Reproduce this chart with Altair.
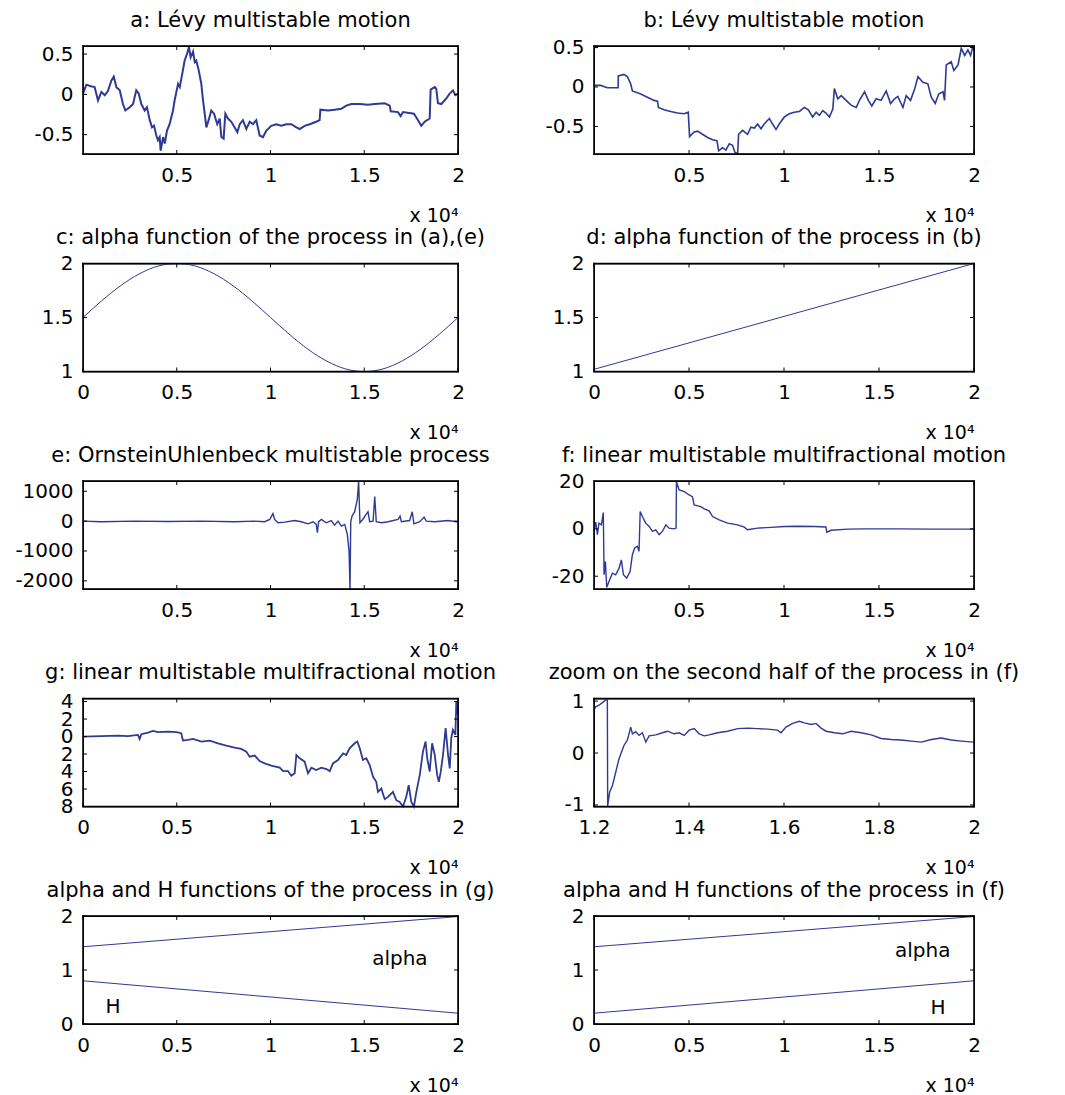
import altair as alt
import pandas as pd

FONT = "DejaVu Sans"
LINE = "#2E3A94"
H = 108
WL, WR = 375, 380

# ---------------- data (x in units of 10^4) ----------------
A_X = [0.000, 0.018, 0.041, 0.062, 0.080, 0.098, 0.116, 0.133, 0.151, 0.164, 0.178, 0.196, 0.213, 0.226,
       0.249, 0.267, 0.284, 0.297, 0.311, 0.329, 0.341, 0.356, 0.368, 0.379, 0.391, 0.400, 0.409, 0.414,
       0.427, 0.436, 0.448, 0.462, 0.480, 0.489, 0.507, 0.516, 0.533, 0.542, 0.556, 0.565, 0.574, 0.587,
       0.596, 0.604, 0.617, 0.631, 0.640, 0.649, 0.658, 0.670, 0.684, 0.699, 0.716, 0.729, 0.738, 0.750,
       0.759, 0.773, 0.791, 0.809, 0.823, 0.836, 0.853, 0.871, 0.889, 0.907, 0.924, 0.942, 0.960, 0.978,
       1.004, 1.031, 1.058, 1.084, 1.111, 1.138, 1.156, 1.182, 1.209, 1.244, 1.262, 1.266, 1.307, 1.342,
       1.378, 1.404, 1.431, 1.476, 1.520, 1.556, 1.609, 1.636, 1.641, 1.680, 1.694, 1.707, 1.765, 1.787,
       1.804, 1.822, 1.849, 1.854, 1.876, 1.884, 1.893, 1.911, 1.938, 1.956, 1.973, 1.986, 2.000]
A_Y = [0.01, 0.12, 0.10, 0.09, -0.075, 0.03, -0.01, 0.04, 0.17, 0.22, 0.09, 0.05, -0.12, -0.20,
       -0.16, -0.12, 0.05, 0.01, -0.12, -0.20, -0.16, -0.32, -0.41, -0.39, -0.51, -0.57, -0.53, -0.70,
       -0.53, -0.61, -0.45, -0.37, -0.20, -0.07, 0.13, 0.09, 0.30, 0.42, 0.51, 0.59, 0.46, 0.53,
       0.40, 0.42, 0.30, 0.13, -0.07, -0.24, -0.41, -0.32, -0.20, -0.24, -0.37, -0.30, -0.53, -0.55,
       -0.24, -0.30, -0.34, -0.41, -0.47, -0.37, -0.32, -0.43, -0.34, -0.37, -0.32, -0.51, -0.53, -0.45,
       -0.39, -0.37, -0.39, -0.37, -0.37, -0.41, -0.43, -0.39, -0.37, -0.34, -0.32, -0.19, -0.20, -0.19,
       -0.18, -0.14, -0.12, -0.12, -0.13, -0.12, -0.11, -0.14, -0.21, -0.22, -0.27, -0.22, -0.24, -0.32,
       -0.39, -0.34, -0.30, 0.06, 0.09, 0.07, -0.11, -0.12, -0.05, 0.01, 0.05, -0.01, 0.01]

B_X = [0.000, 0.035, 0.070, 0.127, 0.128, 0.158, 0.176, 0.193, 0.202, 0.246, 0.281, 0.316, 0.334, 0.339,
       0.369, 0.404, 0.439, 0.475, 0.496, 0.503, 0.527, 0.545, 0.571, 0.598, 0.624, 0.647, 0.656, 0.677,
       0.694, 0.712, 0.729, 0.742, 0.756, 0.761, 0.782, 0.808, 0.826, 0.844, 0.861, 0.879, 0.896, 0.923,
       0.940, 0.958, 0.975, 1.002, 1.028, 1.054, 1.081, 1.107, 1.128, 1.151, 1.169, 1.186, 1.204, 1.221,
       1.239, 1.257, 1.265, 1.283, 1.301, 1.327, 1.353, 1.380, 1.397, 1.424, 1.444, 1.462, 1.485, 1.511,
       1.538, 1.561, 1.582, 1.599, 1.626, 1.643, 1.666, 1.687, 1.705, 1.731, 1.757, 1.775, 1.796, 1.814,
       1.837, 1.845, 1.854, 1.880, 1.894, 1.916, 1.933, 1.951, 1.968, 1.982, 1.995, 2.000]
B_Y = [0.02, 0.02, -0.01, -0.01, 0.14, 0.16, 0.13, 0.04, -0.05, -0.09, -0.13, -0.17, -0.18, -0.26,
       -0.29, -0.31, -0.33, -0.34, -0.32, -0.63, -0.57, -0.56, -0.60, -0.64, -0.67, -0.68, -0.81, -0.77,
       -0.80, -0.72, -0.74, -0.83, -0.84, -0.60, -0.55, -0.60, -0.51, -0.52, -0.47, -0.53, -0.47, -0.40,
       -0.47, -0.54, -0.47, -0.38, -0.34, -0.32, -0.31, -0.26, -0.29, -0.38, -0.32, -0.36, -0.30, -0.33,
       -0.38, -0.28, -0.02, -0.15, -0.11, -0.17, -0.23, -0.26, -0.17, -0.06, -0.17, -0.24, -0.15, -0.17,
       -0.05, -0.21, -0.15, -0.12, -0.26, -0.11, -0.17, -0.03, 0.13, 0.06, 0.04, -0.13, -0.21, -0.09,
       -0.06, -0.17, 0.28, 0.32, 0.21, 0.28, 0.49, 0.40, 0.47, 0.40, 0.52, 0.47]

C_X = [0.0, 0.1, 0.2, 0.3, 0.4, 0.5, 0.6, 0.7, 0.8, 0.9, 1.0, 1.1, 1.2, 1.3, 1.4, 1.5, 1.6, 1.7, 1.8, 1.9, 2.0]
C_Y = [1.50, 1.655, 1.794, 1.904, 1.976, 2.00, 1.976, 1.904, 1.794, 1.655, 1.50, 1.345, 1.206, 1.096,
       1.024, 1.00, 1.024, 1.096, 1.206, 1.345, 1.50]

D_X = [0.0, 2.0]
D_Y = [1.02, 2.00]

E_X = [0.000, 0.098, 0.276, 0.453, 0.631, 0.809, 0.916, 0.969, 0.996, 1.013, 1.022, 1.040, 1.076, 1.129,
       1.164, 1.200, 1.227, 1.244, 1.250, 1.257, 1.271, 1.298, 1.324, 1.342, 1.360, 1.378, 1.396, 1.410,
       1.419, 1.424, 1.428, 1.435, 1.449, 1.463, 1.470, 1.477, 1.492, 1.510, 1.520, 1.529, 1.547, 1.556,
       1.564, 1.591, 1.627, 1.680, 1.691, 1.698, 1.742, 1.756, 1.765, 1.796, 1.819, 1.831, 1.876, 1.947, 2.000]
E_Y = [0, -20, 0, -10, 0, -20, 0, -20, 55, 250, 55, -55, -35, 20,
       -20, -90, -20, -110, -390, -20, 55, -55, 20, -135, 0, -170, -110, -450,
       -1000, -2270, -20, 170, 315, 730, 1340, -55, 55, 225, 315, -20, 0, 820,
       -20, -55, -20, 55, 170, -20, 20, 315, -90, -20, 135, 0, -20, 20, -30]

F_X = [0.000, 0.009, 0.018, 0.026, 0.039, 0.049, 0.053, 0.060, 0.067, 0.079, 0.097, 0.114, 0.132, 0.144,
       0.155, 0.172, 0.190, 0.202, 0.214, 0.228, 0.237, 0.243, 0.255, 0.272, 0.290, 0.308, 0.325, 0.343,
       0.360, 0.378, 0.395, 0.422, 0.432, 0.434, 0.448, 0.475, 0.501, 0.518, 0.527, 0.562, 0.580, 0.606,
       0.624, 0.659, 0.703, 0.756, 0.791, 0.808, 0.861, 0.931, 1.002, 1.072, 1.160, 1.221, 1.225, 1.248,
       1.336, 1.424, 1.599, 1.775, 2.000]
F_Y = [-1.1, 2.8, -2.5, 2.4, 1.7, 6.9, -19.4, -13.8, -24.7, -22.2, -18.7, -19.4, -16.6, -13.1,
       -19.4, -20.8, -18.0, -10.9, -8.1, -7.4, -9.5, 7.3, 5.2, 2.4, 1.0, -1.1, -0.4, -2.5,
       -1.1, 1.7, 0.3, 0.0, 0.3, 19.9, 16.4, 15.7, 14.3, 13.6, 10.1, 9.4, 8.4, 7.6,
       5.2, 3.8, 2.4, 1.7, 0.7, -0.4, 0.3, 0.6, 1.0, 1.1, 1.0, 0.8, -1.4, -0.6,
       -0.1, 0.0, 0.0, -0.1, -0.1]

G_X = [0.000, 0.098, 0.187, 0.240, 0.293, 0.302, 0.311, 0.347, 0.373, 0.400, 0.453, 0.498, 0.524, 0.533,
       0.560, 0.587, 0.631, 0.676, 0.720, 0.764, 0.809, 0.844, 0.871, 0.889, 0.916, 0.942, 0.969, 1.004,
       1.049, 1.067, 1.093, 1.111, 1.129, 1.138, 1.156, 1.182, 1.200, 1.218, 1.244, 1.271, 1.298, 1.316,
       1.333, 1.360, 1.387, 1.404, 1.422, 1.449, 1.463, 1.476, 1.493, 1.511, 1.529, 1.547, 1.564, 1.573,
       1.591, 1.609, 1.627, 1.653, 1.671, 1.689, 1.707, 1.724, 1.737, 1.751, 1.765, 1.778, 1.796, 1.813,
       1.827, 1.836, 1.849, 1.862, 1.876, 1.889, 1.898, 1.908, 1.920, 1.934, 1.947, 1.956, 1.964, 1.973,
       1.986, 1.991, 1.996, 2.000]
G_Y = [0.0, 0.04, 0.11, 0.04, 0.19, -0.27, 0.27, 0.46, 0.65, 0.50, 0.57, 0.50, 0.38, -0.46,
       -0.38, -0.27, -0.57, -0.46, -0.77, -1.03, -1.26, -1.42, -1.72, -2.30, -2.18, -2.80, -3.07, -3.33,
       -3.56, -3.95, -3.95, -4.48, -4.21, -2.11, -2.49, -2.87, -4.21, -3.56, -3.83, -3.56, -3.72, -3.95,
       -3.07, -2.68, -1.92, -2.11, -1.34, -0.77, -0.57, -1.34, -2.68, -2.49, -3.26, -4.60, -5.17, -6.32,
       -5.94, -7.16, -6.90, -6.32, -7.28, -7.47, -8.0, -6.90, -5.56, -7.47, -8.0, -6.32, -4.41, -1.72,
       -0.57, -2.49, -4.02, -0.77, -2.11, -4.41, -5.17, -4.02, -2.11, 0.96, -2.11, -3.64, -0.19, 0.77,
       0.19, 4.0, 2.49, 3.64]

Z_X = [1.2000, 1.2035, 1.2105, 1.2176, 1.2246, 1.2281, 1.2288, 1.2330, 1.2387, 1.2457, 1.2527, 1.2633,
       1.2703, 1.2773, 1.2809, 1.2879, 1.2949, 1.3020, 1.3090, 1.3160, 1.3301, 1.3441, 1.3547, 1.3687,
       1.3793, 1.3898, 1.4004, 1.4109, 1.4214, 1.4320, 1.4425, 1.4601, 1.4812, 1.5023, 1.5234, 1.5445,
       1.5655, 1.5866, 1.5937, 1.6042, 1.6183, 1.6323, 1.6429, 1.6569, 1.6675, 1.6780, 1.6886, 1.7062,
       1.7237, 1.7413, 1.7624, 1.7835, 1.8046, 1.8256, 1.8467, 1.8678, 1.8889, 1.9100, 1.9311, 1.9522,
       1.9733, 2.0000]
Z_Y = [0.83, 0.89, 0.92, 0.97, 1.02, 1.02, -1.02, -0.75, -0.63, -0.37, -0.11, 0.15,
       0.25, 0.50, 0.37, 0.41, 0.34, 0.39, 0.21, 0.33, 0.35, 0.39, 0.42, 0.37,
       0.39, 0.34, 0.44, 0.47, 0.37, 0.33, 0.35, 0.39, 0.42, 0.47, 0.48, 0.47,
       0.46, 0.44, 0.39, 0.50, 0.57, 0.61, 0.58, 0.55, 0.57, 0.48, 0.42, 0.39,
       0.37, 0.42, 0.39, 0.35, 0.28, 0.26, 0.25, 0.23, 0.21, 0.26, 0.29, 0.25,
       0.23, 0.21]

LIN_X = [0.0, 2.0]
I_ALPHA = [1.43, 1.99]
I_H = [0.80, 0.20]
J_ALPHA = [1.43, 1.99]
J_H = [0.20, 0.80]

I_LABELS = pd.DataFrame({"x": [1.69, 0.16], "y": [1.20, 0.31], "t": ["alpha", "H"]})
J_LABELS = pd.DataFrame({"x": [1.73, 1.81], "y": [1.36, 0.29], "t": ["alpha", "H"]})

TICKS_X_NO0 = [0.5, 1, 1.5, 2]
TICKS_X_0 = [0, 0.5, 1, 1.5, 2]

LABEL_SIZE = 20
EDGE = 1.4   # thickness of the box edges (filled ticks)


def panel(title, series, xdom, ydom, xticks, yticks, width, label_expr="'' + datum.value",
          widths=None, interp=None, labels=None):
    sx = alt.Scale(domain=xdom, nice=False, zero=False)
    sy = alt.Scale(domain=ydom, nice=False, zero=False)
    xaxis = alt.Axis(values=xticks, labelExpr="'' + datum.value", tickSize=0, grid=False, domain=False,
                     labelFont=FONT, labelFontSize=LABEL_SIZE, labelColor="black", labelPadding=11,
                     labelFlush=False, labelOverlap=False, labelBound=False,
                     title="x 10\u2074", titleFont=FONT, titleFontSize=19, titleFontWeight="normal",
                     titleColor="black", titleAnchor="end", titleAlign="right", titleBaseline="alphabetic",
                     titleX=width, titleY=67)
    yaxis = alt.Axis(values=yticks, labelExpr=label_expr, tickSize=0, grid=False, domain=False,
                     labelFont=FONT, labelFontSize=LABEL_SIZE, labelColor="black", labelPadding=10,
                     labelFlush=False, labelOverlap=False, labelBound=False, title=None,
                     minExtent=74, maxExtent=74)
    X = lambda: alt.X("x:Q", scale=sx, axis=xaxis)
    Y = lambda: alt.Y("y:Q", scale=sy, axis=yaxis)
    layers = []
    for k, (xs, ys) in enumerate(series):
        df = pd.DataFrame({"x": xs, "y": ys, "i": list(range(len(xs)))})
        sw = widths[k] if widths else 1.0
        mk = dict(color=LINE, strokeWidth=sw)
        if interp:
            mk["interpolate"] = interp
        layers.append(alt.Chart(df).mark_line(**mk).encode(x=X(), y=Y(), order="i:Q"))
    tx = pd.DataFrame({"x": xticks})
    ty = pd.DataFrame({"y": yticks})
    tl = 4
    # inward tick marks on all four sides (filled ticks)
    layers.append(alt.Chart(tx).mark_tick(color="black", orient="vertical", size=tl, thickness=1,
                                          opacity=1).encode(x=X(), y=alt.value(H - tl / 2)))
    layers.append(alt.Chart(tx).mark_tick(color="black", orient="vertical", size=tl, thickness=1,
                                          opacity=1).encode(x=X(), y=alt.value(tl / 2)))
    layers.append(alt.Chart(ty).mark_tick(color="black", orient="horizontal", size=tl, thickness=1,
                                          opacity=1).encode(y=Y(), x=alt.value(tl / 2)))
    layers.append(alt.Chart(ty).mark_tick(color="black", orient="horizontal", size=tl, thickness=1,
                                          opacity=1).encode(y=Y(), x=alt.value(width - tl / 2)))
    # box edges as filled ticks centred on the middle of each side
    midx = pd.DataFrame({"x": [(xdom[0] + xdom[1]) / 2]})
    midy = pd.DataFrame({"y": [(ydom[0] + ydom[1]) / 2]})
    layers.append(alt.Chart(midx).mark_tick(color="black", orient="horizontal", size=width + EDGE,
                                            thickness=EDGE, opacity=1).encode(x=X(), y=alt.value(0)))
    layers.append(alt.Chart(midx).mark_tick(color="black", orient="horizontal", size=width + EDGE,
                                            thickness=EDGE, opacity=1).encode(x=X(), y=alt.value(H)))
    layers.append(alt.Chart(midy).mark_tick(color="black", orient="vertical", size=H + EDGE,
                                            thickness=EDGE, opacity=1).encode(y=Y(), x=alt.value(0)))
    layers.append(alt.Chart(midy).mark_tick(color="black", orient="vertical", size=H + EDGE,
                                            thickness=EDGE, opacity=1).encode(y=Y(), x=alt.value(width)))
    if labels is not None:
        layers.append(alt.Chart(labels).mark_text(font=FONT, fontSize=20, color="black",
                                                  align="center", baseline="middle").encode(
            x=X(), y=Y(), text="t:N"))
    # panel title as text above the box
    layers.append(alt.Chart(pd.DataFrame({"t": [title]})).mark_text(
        font=FONT, fontSize=21, color="black", align="center", baseline="alphabetic").encode(
        text="t:N", x=alt.value(width / 2), y=alt.value(-19.5)))
    return alt.layer(*layers).properties(width=width, height=H)


pa = panel("a: Lévy multistable motion", [(A_X, A_Y)], [0, 2], [-0.74, 0.6], TICKS_X_NO0, [-0.5, 0, 0.5], WL,
           widths=[2.0])
pb = panel("b: Lévy multistable motion", [(B_X, B_Y)], [0, 2], [-0.85, 0.52], TICKS_X_NO0, [-0.5, 0, 0.5], WR,
           widths=[1.6])
pc = panel("c: alpha function of the process in (a),(e)", [(C_X, C_Y)], [0, 2], [1, 2], TICKS_X_0,
           [1, 1.5, 2], WL, interp="monotone")
pd_ = panel("d: alpha function of the process in (b)", [(D_X, D_Y)], [0, 2], [1, 2], TICKS_X_0,
            [1, 1.5, 2], WR)
pe = panel("e: OrnsteinUhlenbeck multistable process", [(E_X, E_Y)], [0, 2], [-2273, 1344], TICKS_X_NO0,
           [-2000, -1000, 0, 1000], WL, widths=[1.4])
pf = panel("f: linear multistable multifractional motion", [(F_X, F_Y)], [0, 2], [-25.4, 20.2], TICKS_X_NO0,
           [-20, 0, 20], WR, widths=[1.4])
pg = panel("g: linear multistable multifractional motion", [(G_X, G_Y)], [0, 2], [-8, 4.35], TICKS_X_0,
           [-8, -6, -4, -2, 0, 2, 4], WL, label_expr="'' + abs(datum.value)", widths=[1.8])
ph = panel("zoom on the second half of the process in (f)", [(Z_X, Z_Y)], [1.2, 2], [-1.03, 1.05],
           [1.2, 1.4, 1.6, 1.8, 2], [-1, 0, 1], WR, widths=[1.4])
pi = panel("alpha and H functions of the process in (g)", [(LIN_X, I_ALPHA), (LIN_X, I_H)], [0, 2], [0, 2],
           TICKS_X_0, [0, 1, 2], WL, labels=I_LABELS)
pj = panel("alpha and H functions of the process in (f)", [(LIN_X, J_ALPHA), (LIN_X, J_H)], [0, 2], [0, 2],
           TICKS_X_0, [0, 1, 2], WR, labels=J_LABELS)

chart = alt.concat(pa, pb, pc, pd_, pe, pf, pg, ph, pi, pj, columns=2,
                   spacing={"row": 109.5, "column": 136}, bounds="flush").configure_view(
    stroke="black", strokeWidth=1.2).properties(
    background="white", padding={"left": 0, "top": 0, "right": 5, "bottom": 5})

chart.save("out.html", embed_options={"renderer": "svg", "actions": False})
